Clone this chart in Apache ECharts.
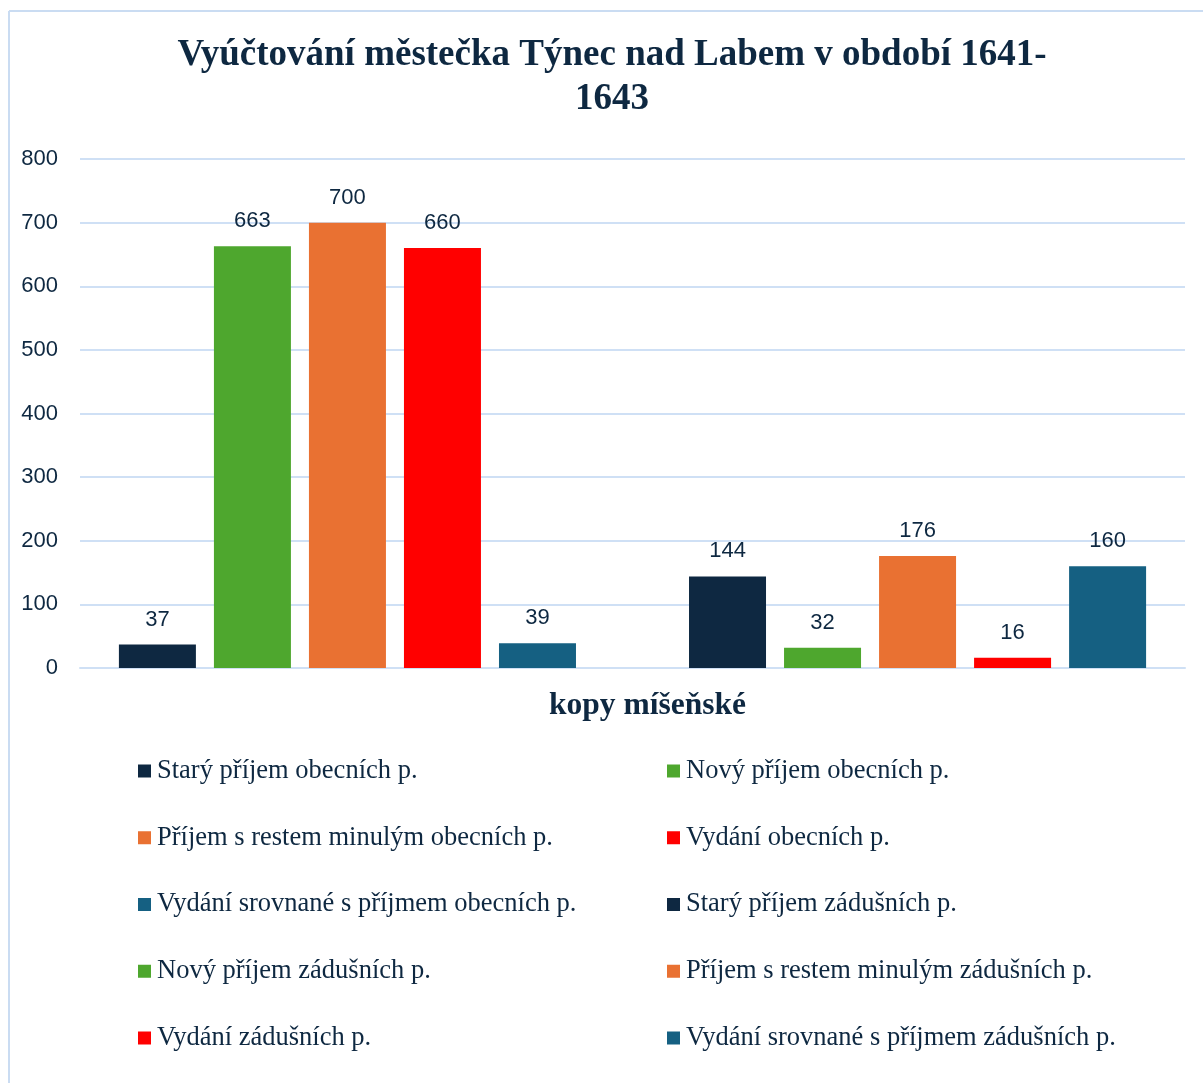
<!DOCTYPE html>
<html>
<head>
<meta charset="utf-8">
<script src="https://cdn.jsdelivr.net/npm/echarts@6/dist/echarts.min.js"></script>
<style>
html,body{margin:0;padding:0;background:#fff;}
#chart{width:1203px;height:1083px;}
</style>
</head>
<body>
<div id="chart"></div>
<script>
const titleLines = ['Vyúčtování městečka Týnec nad Labem v období 1641-', '1643'];
const category = ['kopy míšeňské'];
const seriesNames = [
  'Starý příjem obecních p.',
  'Nový příjem obecních p.',
  'Příjem s restem minulým obecních p.',
  'Vydání obecních p.',
  'Vydání srovnané s příjmem obecních p.',
  'Starý příjem zádušních p.',
  'Nový příjem zádušních p.',
  'Příjem s restem minulým zádušních p.',
  'Vydání zádušních p.',
  'Vydání srovnané s příjmem zádušních p.'
];
const seriesValues = [37, 663, 700, 660, 39, 144, 32, 176, 16, 160];
const seriesColors = ['#0e2841', '#4ea72e', '#e97132', '#ff0000', '#156082',
                      '#0e2841', '#4ea72e', '#e97132', '#ff0000', '#156082'];
const yTicks = [0, 100, 200, 300, 400, 500, 600, 700, 800];

const textColor = '#0e2841';
const gridColor = '#cfe0f5';

const series = [];
seriesNames.forEach((name, i) => {
  if (i === 5) {
    series.push({ type: 'bar', name: '', data: [null], barWidth: 77, barGap: '23.4%' });
  }
  series.push({
    type: 'bar',
    name: name,
    data: [seriesValues[i]],
    barWidth: 77,
    barGap: '23.4%',
    itemStyle: { color: seriesColors[i] },
    label: {
      show: true, position: 'top', distance: 14,
      color: textColor, fontFamily: 'Liberation Sans', fontSize: 22
    }
  });
});

const legendCommon = {
  orient: 'vertical',
  icon: 'rect',
  itemWidth: 13,
  itemHeight: 13,
  itemGap: 36.75,
  padding: 0,
  top: 756,
  textStyle: { color: textColor, fontFamily: 'Liberation Serif', fontSize: 26.5, lineHeight: 30, padding: [0,0,0,1] },
  selectedMode: false
};

const chart = echarts.init(document.getElementById('chart'), null, { renderer: 'canvas' });
chart.setOption({
  animation: false,
  backgroundColor: '#fff',
  graphic: [
    { type: 'line', shape: { x1: 9, y1: 11, x2: 1203, y2: 11 },
      style: { stroke: '#cadcf2', lineWidth: 2 }, silent: true },
    { type: 'line', shape: { x1: 9, y1: 11, x2: 9, y2: 1083 },
      style: { stroke: '#cadcf2', lineWidth: 2 }, silent: true },
    { type: 'text', x: 612, y: 33,
      style: { text: titleLines.join('\n'), textAlign: 'center', textVerticalAlign: 'top',
               fill: textColor, font: 'bold 37px "Liberation Serif"', lineHeight: 44 } }
  ],
  legend: [
    Object.assign({}, legendCommon, { left: 138, data: seriesNames.filter((n, i) => i % 2 === 0) }),
    Object.assign({}, legendCommon, { left: 667, data: seriesNames.filter((n, i) => i % 2 === 1) })
  ],
  grid: { left: 80, right: 18, top: 159, bottom: 415, containLabel: false },
  xAxis: {
    type: 'category',
    data: category,
    axisLabel: { show: false },
    axisTick: { show: false },
    axisLine: { show: true, lineStyle: { color: gridColor, width: 2 } },
    name: category[0],
    nameLocation: 'middle',
    nameGap: 22,
    nameTextStyle: { color: textColor, fontFamily: 'Liberation Serif', fontWeight: 'bold', fontSize: 31.5, padding: [0,0,0,30] }
  },
  yAxis: {
    type: 'value',
    min: yTicks[0], max: yTicks[yTicks.length - 1], interval: 100,
    axisLabel: { color: textColor, fontFamily: 'Liberation Sans', fontSize: 22, margin: 22 },
    axisLine: { show: false },
    axisTick: { show: false },
    splitLine: { lineStyle: { color: gridColor, width: 2 } }
  },
  series: series
});
</script>
</body>
</html>
